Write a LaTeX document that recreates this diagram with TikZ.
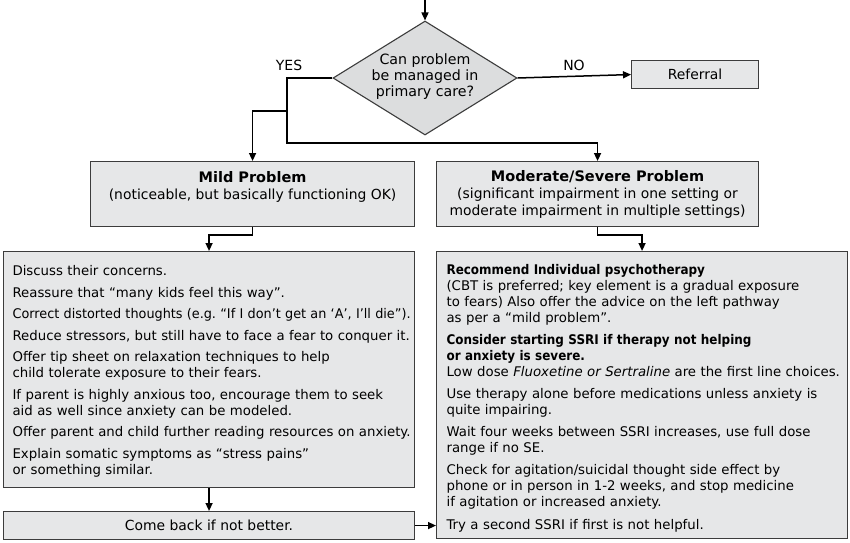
\documentclass[tikz,border=0pt]{standalone}
\usepackage{fontspec}
\usepackage{graphicx}
\setmainfont{DejaVu Sans}
\newfontfamily\condfont{DejaVu Sans Condensed}
\usetikzlibrary{shapes.geometric,arrows.meta}
\definecolor{boxfill}{HTML}{E6E7E8}
\definecolor{diafill}{HTML}{DCDDDE}
\definecolor{boxline}{HTML}{3C3C3C}
\newcommand{\hd}[1]{{\condfont\bfseries #1}}
\frenchspacing
\begin{document}
\begin{tikzpicture}[x=1pt,y=-1pt,
  every node/.style={font=\fontsize{13.9}{17}\selectfont},
  box/.style={draw=boxline, fill=boxfill, line width=1.1pt, rectangle, anchor=north west, inner sep=0pt},
  titlebox/.style={box, align=center},
  listbox/.style={box, align=left, inner xsep=0pt, inner ysep=0pt, font=\fontsize{13.3}{16}\selectfont},
  conn/.style={line width=1.5pt, -{Triangle[length=8pt,width=7pt]}},
  lbl/.style={inner sep=0pt, font=\fontsize{14}{17}\selectfont}
]
\useasboundingbox (0,0) rectangle (850,542);
\fill[white] (0,0) rectangle (850,542);

% decision
\node[diamond, draw=boxline, fill=diafill, line width=1.1pt, minimum width=184pt, minimum height=114pt, inner sep=0pt] (q) at (425,78) {};
\node[align=center, inner sep=0pt, font=\fontsize{14.2}{16}\selectfont] (qt) at (425,77) {Can problem\\be managed in\\primary care?};

\node[box, minimum width=127pt, minimum height=28pt] (ref) at (631,60) {Referral};

\node[titlebox, minimum width=324pt, minimum height=65pt] (mild) at (90,161)
  {{\fontsize{14.5}{17}\selectfont\bfseries Mild Problem}\\(noticeable, but basically functioning OK)\\\mbox{}};
\node[titlebox, minimum width=322pt, minimum height=65pt] (mod) at (436,161)
  {{\fontsize{14.5}{17}\selectfont\bfseries Moderate/Severe Problem}\\(significant impairment in one setting or\\moderate impairment in multiple settings)};

\node[listbox, text width=411pt, minimum height=236pt] (left) at (3,251) {\leftskip=9pt
\rule{0pt}{14pt}Discuss their concerns.\\[5.5pt]
Reassure that “many kids feel this way”.\\[5.5pt]
\resizebox{398pt}{\height}{Correct distorted thoughts (e.g. “If I don’t get an ‘A’, I’ll die”).}\\[5.5pt]
Reduce stressors, but still have to face a fear to conquer it.\\[5.5pt]
Offer tip sheet on relaxation techniques to help\\
child tolerate exposure to their fears.\\[5.5pt]
If parent is highly anxious too, encourage them to seek\\
aid as well since anxiety can be modeled.\\[5.5pt]
Offer parent and child further reading resources on anxiety.\\[5.5pt]
Explain somatic symptoms as “stress pains”\\
or something similar.\par};

\node[listbox, text width=411pt, minimum height=287pt] (right) at (436,251) {\leftskip=10pt
\rule{0pt}{16pt}\hd{Recommend Individual psychotherapy}\\
(CBT is preferred; key element is a gradual exposure\\
to fears) Also offer the advice on the left pathway\\
as per a “mild problem”.\\[6.2pt]
\hd{Consider starting SSRI if therapy not helping}\\
\hd{or anxiety is severe.}\\
Low dose \textit{Fluoxetine or Sertraline} are the first line choices.\\[6.2pt]
Use therapy alone before medications unless anxiety is\\
quite impairing.\\[6.2pt]
Wait four weeks between SSRI increases, use full dose\\
range if no SE.\\[6.2pt]
Check for agitation/suicidal thought side effect by\\
phone or in person in 1-2 weeks, and stop medicine\\
if agitation or increased anxiety.\\[6.2pt]
Try a second SSRI if first is not helpful.\par};

\node[box, minimum width=411pt, minimum height=28pt] (cb) at (3,511) {Come back if not better.};

% labels
\node[lbl] (yeslbl) at (289,65) {YES};
\node[lbl] (nolbl) at (574,65) {NO};

% connectors
\coordinate (top) at (425,0);
\coordinate (yesc) at (287,78);
\coordinate (yesdn) at (287,143);
\coordinate (br) at (287,111);
\draw[conn] (top) -- (q.north);
\draw[conn] (q.east) -- (ref.west);
\draw[conn] (q.west) -- (yesc) -- (yesdn) -| (mod.north);
\draw[conn] (br) -| (mild.north);
\draw[conn] (mild.south) -- ++(0,8) -| (left.north);
\draw[conn] (mod.south) -- ++(0,8) -| (right.north);
\draw[conn] (left.south) -- (cb.north);
\draw[conn] (cb.east) -- (cb.east -| right.west);
\end{tikzpicture}
\end{document}
